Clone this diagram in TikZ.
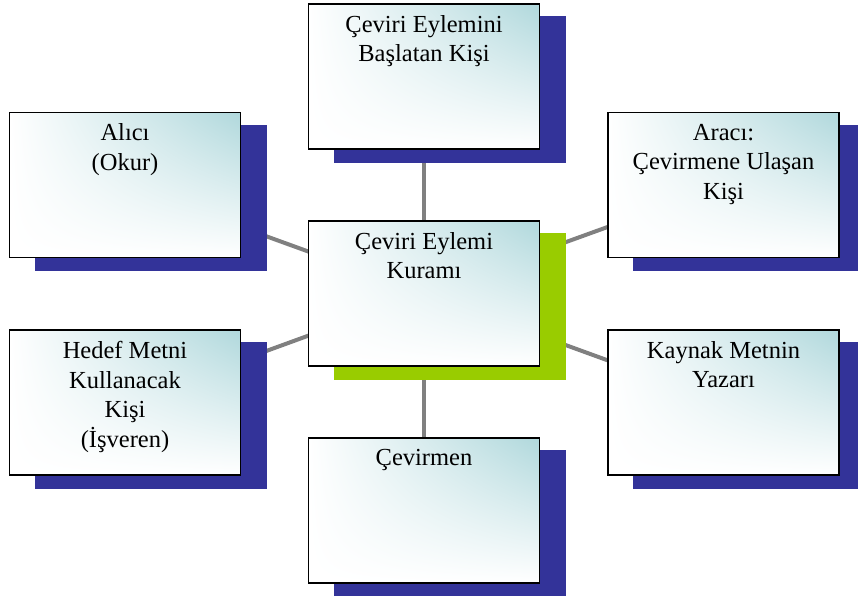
\documentclass[tikz,border=0pt]{standalone}
\usepackage{fontspec}
\setmainfont{Liberation Serif}
\usetikzlibrary{shadings}
\pgfdeclarelayer{bg}
\pgfdeclarelayer{shadowlayer}
\pgfsetlayers{bg,shadowlayer,main}
\definecolor{shadowblue}{RGB}{51,51,153}
\definecolor{shadowgreen}{RGB}{153,204,0}
\definecolor{tealtint}{RGB}{176,216,220}
\definecolor{linkgray}{RGB}{128,128,128}
\tikzset{
  box/.style={draw=black, line width=1.5pt, minimum width=231pt, minimum height=145pt,
    inner sep=0pt, shade, upper right=tealtint, upper left=white, lower left=white, lower right=white},
  lbltext/.style={anchor=north, align=center, inner sep=0pt, font=\fontsize{24.5}{29.5}\selectfont},
  link/.style={draw=linkgray, line width=4pt},
}
\newcommand{\boxshadow}[2]{%
  \fill[#2] ([shift={(26pt,-13pt)}]#1.south west) rectangle ([shift={(26pt,-13pt)}]#1.north east);}
\begin{document}
\begin{tikzpicture}[x=1pt,y=-1pt]
\useasboundingbox (0,0) rectangle (858,596);
\node[box] (top) at (424,76.5) {};
\node[box] (ctr) at (424,293.5) {};
\node[box] (alici) at (125,185) {};
\node[box] (araci) at (723.5,185) {};
\node[box] (hedef) at (125,402.5) {};
\node[box] (kaynak) at (723.5,402.5) {};
\node[box] (cevirmen) at (424,510.5) {};

\node[lbltext] (ttop) at ([yshift=-12pt]top.north) {Çeviri Eylemini\\Başlatan Kişi};
\node[lbltext] (tctr) at ([yshift=-12pt]ctr.north) {Çeviri Eylemi\\Kuramı};
\node[lbltext] (talici) at ([yshift=-12pt]alici.north) {Alıcı\\(Okur)};
\node[lbltext] (taraci) at ([yshift=-12pt]araci.north) {Aracı:\\Çevirmene Ulaşan\\Kişi};
\node[lbltext] (thedef) at ([yshift=-12pt]hedef.north) {Hedef Metni\\Kullanacak\\Kişi\\(İşveren)};
\node[lbltext] (tkaynak) at ([yshift=-12pt]kaynak.north) {Kaynak Metnin\\Yazarı};
\node[lbltext] (tcev) at ([yshift=-12pt]cevirmen.north) {Çevirmen};

\begin{pgfonlayer}{shadowlayer}
  \boxshadow{top}{shadowblue}
  \boxshadow{ctr}{shadowgreen}
  \boxshadow{alici}{shadowblue}
  \boxshadow{araci}{shadowblue}
  \boxshadow{hedef}{shadowblue}
  \boxshadow{kaynak}{shadowblue}
  \boxshadow{cevirmen}{shadowblue}
\end{pgfonlayer}
\begin{pgfonlayer}{bg}
  \draw[link] (ctr.center) -- (top.center);
  \draw[link] (ctr.center) -- (cevirmen.center);
  \draw[link] (ctr.center) -- (alici.center);
  \draw[link] (ctr.center) -- (araci.center);
  \draw[link] (ctr.center) -- (hedef.center);
  \draw[link] (ctr.center) -- (kaynak.center);
\end{pgfonlayer}
\end{tikzpicture}
\end{document}
